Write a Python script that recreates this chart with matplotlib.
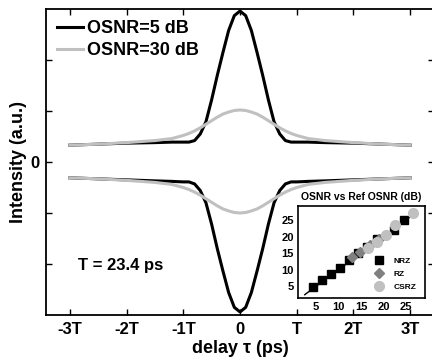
import matplotlib
matplotlib.use("Agg")
import matplotlib.pyplot as plt
import numpy as np

plt.rcParams['font.family'] = ['Liberation Sans', 'DejaVu Sans']
plt.rcParams['font.weight'] = 'bold'

T_PS = 23.4

# delay in units of T
delay_T = [-3.0, -2.5, -2.0, -1.5, -1.2, -1.0, -0.9, -0.8, -0.7, -0.6, -0.5, -0.4, -0.3, -0.2, -0.1,
           0.0, 0.1, 0.2, 0.3, 0.4, 0.5, 0.6, 0.7, 0.8, 0.9, 1.0, 1.2, 1.5, 2.0, 2.5, 3.0]

up_5dB = [0.33, 0.35, 0.37, 0.38, 0.39, 0.39, 0.39, 0.42, 0.55, 0.79, 1.22, 1.70, 2.15, 2.58, 2.87,
          2.96, 2.87, 2.58, 2.15, 1.70, 1.22, 0.79, 0.55, 0.42, 0.39, 0.39, 0.39, 0.38, 0.37, 0.35, 0.33]
up_30dB = [0.33, 0.35, 0.38, 0.42, 0.46, 0.52, 0.56, 0.61, 0.67, 0.74, 0.81, 0.88, 0.94, 0.98, 1.01,
           1.02, 1.01, 0.98, 0.94, 0.88, 0.81, 0.74, 0.67, 0.61, 0.56, 0.52, 0.46, 0.42, 0.38, 0.35, 0.33]
low_5dB = [-0.31, -0.33, -0.35, -0.37, -0.38, -0.39, -0.39, -0.43, -0.56, -0.80, -1.22, -1.70, -2.14, -2.56, -2.85,
           -2.94, -2.85, -2.56, -2.14, -1.70, -1.22, -0.80, -0.56, -0.43, -0.39, -0.39, -0.38, -0.37, -0.35, -0.33, -0.31]
low_30dB = [-0.31, -0.33, -0.36, -0.40, -0.44, -0.50, -0.54, -0.59, -0.65, -0.72, -0.79, -0.86, -0.92, -0.96, -0.99,
            -1.00, -0.99, -0.96, -0.92, -0.86, -0.79, -0.72, -0.65, -0.59, -0.54, -0.50, -0.44, -0.40, -0.36, -0.33, -0.31]

xtick_T = [-3, -2, -1, 0, 1, 2, 3]
xtick_labels = ['-3T', '-2T', '-1T', '0', 'T', '2T', '3T']

# inset: measured OSNR vs reference OSNR
nrz_x = [4.3, 6.4, 8.4, 10.4, 12.4, 14.4, 16.4, 18.6, 22.4, 24.5]
nrz_y = [4.9, 6.8, 8.8, 10.6, 12.8, 15.0, 17.0, 19.4, 22.0, 24.9]
rz_x = [13.0, 14.8, 17.0, 19.0]
rz_y = [13.7, 15.4, 17.6, 19.3]
csrz_x = [16.6, 18.6, 20.6, 22.6, 26.6]
csrz_y = [16.6, 18.4, 20.6, 23.4, 27.0]
ref_line = [2.5, 27.0]

gray = '#c0c0c0'

fig = plt.figure(figsize=(4.32, 3.58), dpi=100)
ax = fig.add_axes([46/432, 43/358, 388/432, 306/358])

x_ps = np.array(delay_T) * T_PS
ax.plot(x_ps, up_5dB, color='k', lw=2.2, label='OSNR=5 dB')
ax.plot(x_ps, up_30dB, color=gray, lw=2.2, label='OSNR=30 dB')
ax.plot(x_ps, low_5dB, color='k', lw=2.2)
ax.plot(x_ps, low_30dB, color=gray, lw=2.2)

ax.set_xlim(-80, 80)
ax.set_ylim(-3, 3)
ax.set_xticks(np.array(xtick_T) * T_PS)
ax.set_xticklabels(xtick_labels, fontsize=12, fontweight='bold')
ax.set_yticks([-2, -1, 0, 1, 2])
ax.set_yticklabels(['', '', '0', '', ''], fontsize=12, fontweight='bold')
ax.tick_params(direction='in', length=4, width=1, top=True, right=True, pad=5)
for s in ax.spines.values():
    s.set_linewidth(1.3)
ax.set_xlabel('delay τ (ps)', fontsize=13, fontweight='bold', labelpad=2)
ax.set_ylabel('Intensity (a.u.)', fontsize=13, fontweight='bold', labelpad=2)

leg = ax.legend(loc='upper left', frameon=False, prop={'size': 13, 'weight': 'bold'},
                handlelength=1.45, handletextpad=0.2, labelspacing=0.3, borderaxespad=0.2,
                bbox_to_anchor=(0.0, 1.0))

ax.text(-67, -2.03, 'T = 23.4 ps', fontsize=12, fontweight='bold', va='center')

# inset
ins = fig.add_axes([298/432, 60/358, 127/432, 92/358])
ins.plot(ref_line, ref_line, color='k', lw=1)
ins.plot(nrz_x, nrz_y, 's', color='k', ms=5.5, label='NRZ')
ins.plot(rz_x, rz_y, 'D', color='#808080', ms=5, label='RZ')
ins.plot(csrz_x, csrz_y, 'o', color=gray, ms=7, label='CSRZ')
ins.set_xlim(1, 29.2)
ins.set_ylim(1.5, 29.2)
ins.set_xticks([5, 10, 15, 20, 25])
ins.set_yticks([5, 10, 15, 20, 25])
ins.tick_params(direction='in', length=0, labelsize=8, pad=3)
for lab in ins.get_xticklabels() + ins.get_yticklabels():
    lab.set_fontweight('bold')
for s in ins.spines.values():
    s.set_linewidth(1.2)
ins.set_title('OSNR vs Ref OSNR (dB)', fontsize=7.5, fontweight='bold', pad=4)
ileg = ins.legend(handles=ins.lines[1:], loc='lower right', frameon=False,
                  prop={'size': 6, 'weight': 'bold'}, bbox_to_anchor=(0.96, 0.04),
                  handlelength=1.0, handletextpad=1.3, labelspacing=0.6, borderaxespad=0.0)

fig.savefig('out.png', dpi=100)
